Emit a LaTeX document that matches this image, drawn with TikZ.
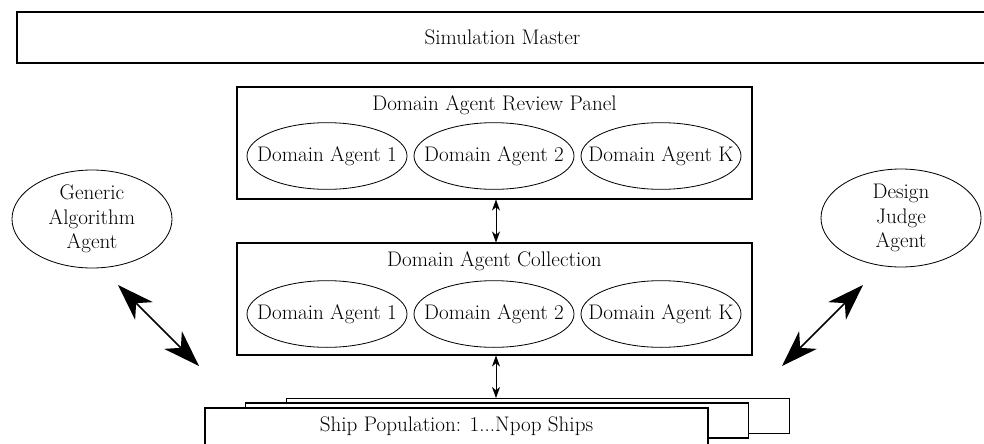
\documentclass[tikz,border=0pt]{standalone}
\usepackage{tikz}
\usetikzlibrary{positioning, shapes.geometric, arrows.meta}

\begin{document}
\begin{tikzpicture}[x=0.03cm, y=-0.03cm,
		every node/.style = {font=\fontsize{18}{21}\selectfont},
		box/.style = {draw, rectangle, line width=0.9pt, inner sep=0pt},
		agent/.style = {draw, ellipse, line width=0.7pt, align=center, inner xsep=-7mm, inner ysep=-1.5mm, minimum width=4.8cm, minimum height=2cm},
		sideagent/.style = {agent, minimum height=2.94cm},
		ship/.style = {draw, rectangle, fill=white, line width=0.9pt, minimum width=15.09cm, minimum height=1.05cm},
		bigarrow/.style = {line width=1.3pt, {Stealth[length=11mm, width=7.5mm, inset=3.3mm]}-{Stealth[length=11mm, width=7.5mm, inset=3.3mm]}},
		smallarrow/.style = {line width=0.7pt, {Stealth[length=3.3mm, width=2.4mm, inset=1mm]}-{Stealth[length=3.3mm, width=2.4mm, inset=1mm]}}]
		\useasboundingbox (0,0) rectangle (984,443);
		\node[box, minimum width=29.13cm, minimum height=1.53cm] (master) at (502.5,37.5) {Simulation Master};
		\node[box, minimum width=15.45cm, minimum height=3.36cm] (panel) at (494.5,143) {};
		\node (paneltitle) at (494.5,105) {Domain Agent Review Panel};
		\node[agent] (p1) at (327,156) {Domain Agent 1};
		\node[agent] (p2) at (494,156) {Domain Agent 2};
		\node[agent] (pk) at (661,156) {Domain Agent K};
		\node[box, minimum width=15.45cm, minimum height=3.36cm] (coll) at (494.5,299) {};
		\node (colltitle) at (494.5,261) {Domain Agent Collection};
		\node[agent] (c1) at (327,314) {Domain Agent 1};
		\node[agent] (c2) at (494,314) {Domain Agent 2};
		\node[agent] (ck) at (661,314) {Domain Agent K};
		\node[ship] (ship3) at (538,416) {};
		\node[ship] (ship2) at (497,420.5) {};
		\node[ship, minimum height=1.11cm] (ship1) at (456.5,426.5) {Ship Population: 1...Npop Ships};
		\node[sideagent] (ga) at (92,219) {Generic\\Algorithm\\Agent};
		\node[sideagent] (judge) at (901,218) {Design\\Judge\\Agent};
		\coordinate (gatip) at (118,285);
		\coordinate (shiptipl) at (199,366);
		\coordinate (judgetip) at (863,285);
		\coordinate (shiptipr) at (782,366);
		\draw[smallarrow] (panel.south -| 496,0) to (coll.north -| 496,0);
		\draw[smallarrow] (coll.south -| 496,0) to (ship3.north -| 496,0);
		\draw[bigarrow] (gatip) to (shiptipl);
		\draw[bigarrow] (judgetip) to (shiptipr);
	\end{tikzpicture}
\end{document}
